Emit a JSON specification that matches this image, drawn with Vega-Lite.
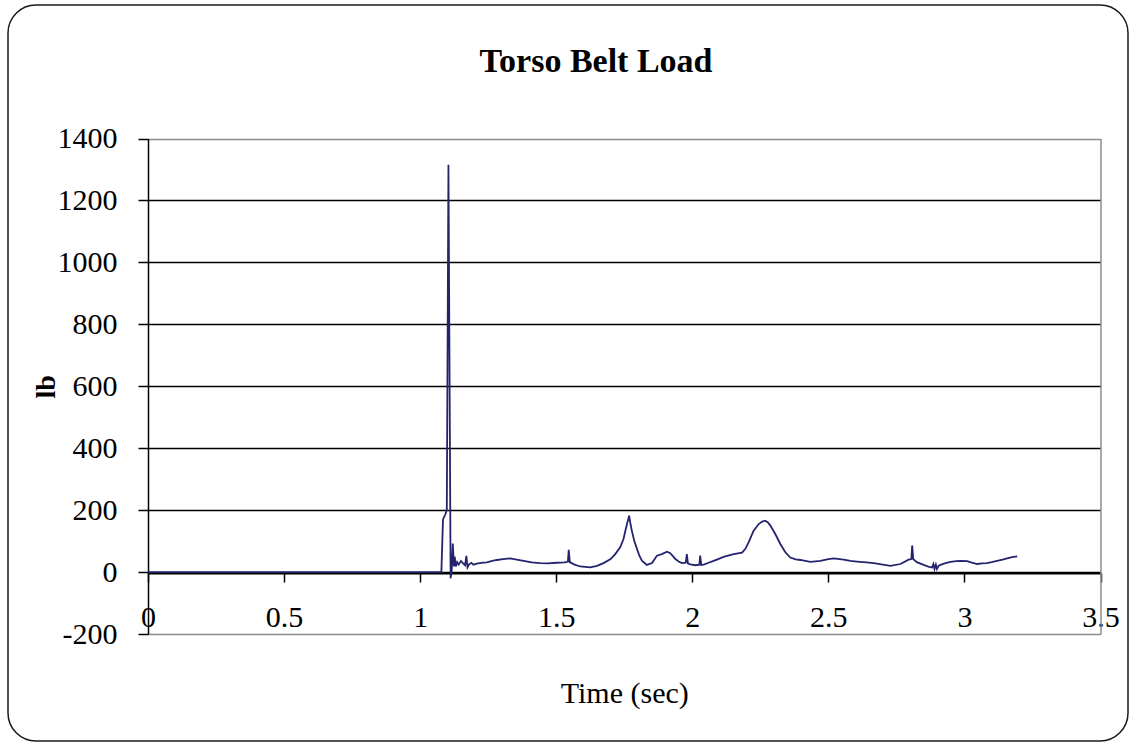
{
  "$schema": "https://vega.github.io/schema/vega-lite/v6.json",
  "width": 1120,
  "height": 736,
  "autosize": {"type": "none"},
  "padding": {"left": 8, "top": 5, "right": 7, "bottom": 1},
  "background": "white",
  "title": {
    "text": "Torso Belt Load",
    "font": "Liberation Serif",
    "fontSize": 34,
    "fontWeight": "bold",
    "color": "#000000",
    "anchor": "middle",
    "frame": "group",
    "baseline": "alphabetic",
    "offset": -101,
    "dx": 28
  },
  "config": {
    "view": {"stroke": "#1a1a1a", "strokeWidth": 1.5, "cornerRadius": 28, "fill": "white"},
    "axis": {
      "labelFont": "Liberation Serif",
      "titleFont": "Liberation Serif",
      "labelColor": "#000000",
      "titleColor": "#000000",
      "labelFontSize": 30,
      "titleFontSize": 30,
      "titleFontWeight": "normal",
      "domainColor": "#000000",
      "tickColor": "#000000",
      "labelOverlap": false,
      "labelBound": false,
      "labelFlush": false
    }
  },
  "data": {
    "values": [
      {"t": 0, "lb": 0}, {"t": 0.5, "lb": 0}, {"t": 1.0, "lb": 0}, {"t": 1.078, "lb": 0},
      {"t": 1.084, "lb": 170}, {"t": 1.092, "lb": 185}, {"t": 1.098, "lb": 200}, {"t": 1.104, "lb": 1315},
      {"t": 1.112, "lb": -20}, {"t": 1.116, "lb": 5}, {"t": 1.12, "lb": 92}, {"t": 1.124, "lb": 18},
      {"t": 1.127, "lb": 50}, {"t": 1.131, "lb": 18}, {"t": 1.136, "lb": 32}, {"t": 1.142, "lb": 24},
      {"t": 1.15, "lb": 36}, {"t": 1.158, "lb": 28}, {"t": 1.165, "lb": 22}, {"t": 1.17, "lb": 52},
      {"t": 1.174, "lb": 15}, {"t": 1.18, "lb": 25}, {"t": 1.188, "lb": 30}, {"t": 1.196, "lb": 24},
      {"t": 1.208, "lb": 27}, {"t": 1.225, "lb": 30}, {"t": 1.245, "lb": 31}, {"t": 1.265, "lb": 36},
      {"t": 1.282, "lb": 39}, {"t": 1.305, "lb": 42}, {"t": 1.331, "lb": 44}, {"t": 1.355, "lb": 40},
      {"t": 1.38, "lb": 36}, {"t": 1.41, "lb": 31}, {"t": 1.441, "lb": 29}, {"t": 1.47, "lb": 28},
      {"t": 1.5, "lb": 30}, {"t": 1.53, "lb": 31}, {"t": 1.543, "lb": 33}, {"t": 1.546, "lb": 72},
      {"t": 1.55, "lb": 32}, {"t": 1.565, "lb": 25}, {"t": 1.588, "lb": 18}, {"t": 1.625, "lb": 15},
      {"t": 1.65, "lb": 20}, {"t": 1.674, "lb": 29}, {"t": 1.7, "lb": 42}, {"t": 1.717, "lb": 58},
      {"t": 1.735, "lb": 80}, {"t": 1.747, "lb": 106}, {"t": 1.76, "lb": 155}, {"t": 1.768, "lb": 182},
      {"t": 1.772, "lb": 160}, {"t": 1.778, "lb": 133}, {"t": 1.787, "lb": 100}, {"t": 1.797, "lb": 74},
      {"t": 1.806, "lb": 52}, {"t": 1.815, "lb": 37}, {"t": 1.833, "lb": 23}, {"t": 1.852, "lb": 29},
      {"t": 1.862, "lb": 42}, {"t": 1.87, "lb": 53}, {"t": 1.888, "lb": 58}, {"t": 1.907, "lb": 66},
      {"t": 1.919, "lb": 61}, {"t": 1.928, "lb": 52}, {"t": 1.938, "lb": 42}, {"t": 1.95, "lb": 34},
      {"t": 1.962, "lb": 29}, {"t": 1.976, "lb": 30}, {"t": 1.98, "lb": 58}, {"t": 1.984, "lb": 28},
      {"t": 1.993, "lb": 25}, {"t": 2.011, "lb": 22}, {"t": 2.026, "lb": 24}, {"t": 2.029, "lb": 53},
      {"t": 2.033, "lb": 23}, {"t": 2.042, "lb": 24}, {"t": 2.06, "lb": 30}, {"t": 2.078, "lb": 36},
      {"t": 2.095, "lb": 42}, {"t": 2.115, "lb": 49}, {"t": 2.135, "lb": 54}, {"t": 2.152, "lb": 58},
      {"t": 2.183, "lb": 63}, {"t": 2.195, "lb": 75}, {"t": 2.207, "lb": 96}, {"t": 2.225, "lb": 133},
      {"t": 2.244, "lb": 155}, {"t": 2.257, "lb": 163}, {"t": 2.268, "lb": 166}, {"t": 2.278, "lb": 160},
      {"t": 2.287, "lb": 150}, {"t": 2.305, "lb": 123}, {"t": 2.324, "lb": 90}, {"t": 2.342, "lb": 64},
      {"t": 2.36, "lb": 47}, {"t": 2.38, "lb": 41}, {"t": 2.397, "lb": 39}, {"t": 2.434, "lb": 33},
      {"t": 2.471, "lb": 36}, {"t": 2.5, "lb": 42}, {"t": 2.52, "lb": 44}, {"t": 2.556, "lb": 40},
      {"t": 2.581, "lb": 36}, {"t": 2.605, "lb": 34}, {"t": 2.64, "lb": 31}, {"t": 2.667, "lb": 29},
      {"t": 2.7, "lb": 24}, {"t": 2.728, "lb": 20}, {"t": 2.765, "lb": 26}, {"t": 2.795, "lb": 40},
      {"t": 2.805, "lb": 42}, {"t": 2.808, "lb": 86}, {"t": 2.812, "lb": 42}, {"t": 2.825, "lb": 32},
      {"t": 2.85, "lb": 23}, {"t": 2.87, "lb": 17}, {"t": 2.881, "lb": 15}, {"t": 2.886, "lb": 26},
      {"t": 2.89, "lb": 10}, {"t": 2.895, "lb": 24}, {"t": 2.899, "lb": 10}, {"t": 2.905, "lb": 20},
      {"t": 2.912, "lb": 23}, {"t": 2.93, "lb": 29}, {"t": 2.949, "lb": 33}, {"t": 2.97, "lb": 35},
      {"t": 2.985, "lb": 36}, {"t": 3.01, "lb": 35}, {"t": 3.03, "lb": 30}, {"t": 3.047, "lb": 26},
      {"t": 3.065, "lb": 28}, {"t": 3.083, "lb": 29}, {"t": 3.1, "lb": 32}, {"t": 3.12, "lb": 36},
      {"t": 3.14, "lb": 40}, {"t": 3.157, "lb": 44}, {"t": 3.175, "lb": 48}, {"t": 3.194, "lb": 51}
    ]
  },
  "layer": [
    {
      "mark": {"type": "line", "color": "#24246e", "strokeWidth": 1.8, "interpolate": "linear"},
      "encoding": {
        "x": {
          "field": "t",
          "type": "quantitative",
          "scale": {"domain": [0, 3.5], "range": [140, 1092.5], "nice": false, "zero": false},
          "axis": {
            "title": "Time (sec)",
            "orient": "bottom",
            "offset": -168,
            "values": [0, 0.5, 1, 1.5, 2, 2.5, 3, 3.5],
            "labelExpr": "'' + datum.value",
            "labelBaseline": "alphabetic",
            "labelPadding": 44,
            "tickSize": 9,
            "tickWidth": 1.5,
            "domainWidth": 2,
            "titlePadding": 46,
            "grid": false
          }
        },
        "y": {
          "field": "lb",
          "type": "quantitative",
          "scale": {"domain": [-200, 1400], "range": [629, 133.5], "nice": false, "zero": false},
          "axis": {
            "title": "lb",
            "titleFontWeight": "bold",
            "titleFontSize": 28,
            "orient": "left",
            "offset": -140,
            "values": [-200, 0, 200, 400, 600, 800, 1000, 1200, 1400],
            "labelExpr": "'' + datum.value",
            "labelPadding": 21,
            "tickSize": 10,
            "tickWidth": 1.5,
            "domainWidth": 1.5,
            "titlePadding": -3,
            "grid": true,
            "gridWidth": 1.5,
            "gridColor": {"condition": {"test": "datum.value === 1400 || datum.value === -200", "value": "#8c8c8c"}, "value": "#000000"}
          }
        }
      }
    },
    {
      "mark": {"type": "line", "opacity": 0},
      "encoding": {
        "x": {"field": "t", "type": "quantitative"},
        "y": {
          "field": "lb",
          "type": "quantitative",
          "axis": {
            "orient": "right",
            "offset": -27.5,
            "title": null,
            "labels": false,
            "ticks": false,
            "grid": false,
            "domainColor": "#8c8c8c",
            "domainWidth": 1.5
          }
        }
      }
    }
  ],
  "resolve": {"axis": {"y": "independent"}}
}
